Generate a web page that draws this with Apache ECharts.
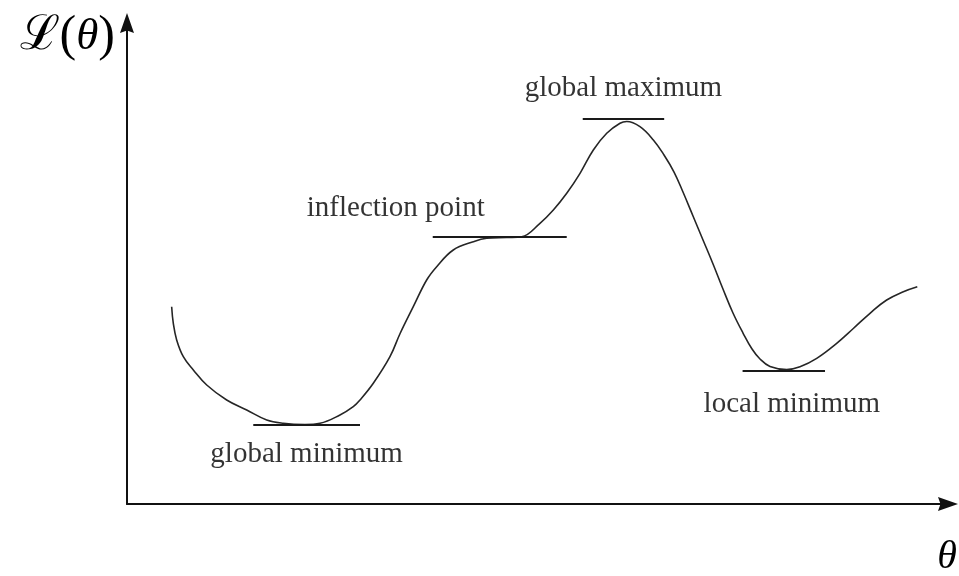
<!DOCTYPE html>
<html>
<head>
<meta charset="utf-8">
<script src="https://cdn.jsdelivr.net/npm/echarts@6/dist/echarts.min.js"></script>
<style>
  html, body { margin: 0; padding: 0; background: #ffffff; }
  #chart { width: 959px; height: 576px; }
</style>
</head>
<body>
<div id="chart"></div>
<script>
// Loss landscape L(θ) sampled along θ (both axes run 0..100, unitless)
const curveTheta = [
  5.44, 5.64, 6.05, 6.86, 8.08, 9.71, 12.14, 14.58, 17.02, 19.04,
  21.68, 23.51, 25.94, 27.56, 28.38, 30.0, 32.03, 33.25, 34.87, 36.5,
  37.72, 39.74, 42.18, 43.81, 46.25, 48.07, 50.3, 51.93, 53.56, 55.18,
  56.8, 58.43, 60.05, 60.87, 62.48, 64.11, 65.41, 66.63, 67.72, 68.94,
  70.16, 71.38, 72.59, 73.81, 75.03, 76.13, 77.1, 78.32, 80.35, 81.97,
  84.01, 86.44, 88.47, 90.5, 92.53, 94.56, 96.26
];
const curveLoss = [
  41.02, 37.57, 34.1, 30.62, 27.86, 24.74, 21.62, 19.54, 17.46, 16.78,
  16.53, 16.78, 18.5, 20.23, 21.62, 25.09, 30.62, 35.4, 41.02, 46.57,
  49.33, 52.81, 54.53, 55.24, 55.41, 55.57, 58.36, 61.12, 64.59, 68.75,
  73.6, 77.07, 79.15, 79.52, 78.44, 75.68, 72.56, 69.02, 64.86, 59.88,
  54.89, 49.9, 44.7, 39.71, 35.55, 32.22, 30.15, 28.59, 27.96, 28.54,
  30.29, 33.41, 36.49, 39.65, 42.41, 44.14, 45.18
];

// Stationary points: name, θ at the tangent's centre, level of the tangent, half span of the tangent
const stationaryNames = ['global minimum', 'inflection point', 'global maximum', 'local minimum'];
const stationaryTheta = [21.88, 45.4, 60.47, 80.0];
const stationaryLoss = [16.42, 55.47, 80.04, 27.71];
const tangentHalfSpan = [6.5, 8.16, 4.96, 5.02];

// Axis titles
const lossAxisTitle = '{l|ℒ}{p|(}{t|θ}{p|)}';
const thetaAxisTitle = 'θ';

// Label placement around each tangent (pixels): [dx, dy]
const labelOffsets = [[0, 29], [-104, -29], [0, -31], [8, 34]];

const serif = "'Liberation Serif', 'Times New Roman', serif";
const arrowHead = 'path://M7,0 L14,20 L7,17.5 L0,20 Z';

const curveData = curveTheta.map((t, i) => [t, curveLoss[i]]);

const tangentSegments = stationaryTheta.map((t, i) => [
  { coord: [t - tangentHalfSpan[i], stationaryLoss[i]] },
  { coord: [t + tangentHalfSpan[i], stationaryLoss[i]] }
]);

const stationaryData = stationaryNames.map((name, i) => ({
  name: name,
  value: [stationaryTheta[i], stationaryLoss[i]],
  label: { offset: labelOffsets[i] }
}));

const axisLineStyle = { color: '#111111', width: 2 };

const chart = echarts.init(document.getElementById('chart'), null, { renderer: 'canvas' });

chart.setOption({
  animation: false,
  backgroundColor: '#ffffff',
  grid: { left: 127, right: 11, top: 23, bottom: 72, containLabel: false, outerBoundsMode: 'none' },
  xAxis: {
    type: 'value',
    min: 0,
    max: 100,
    axisLine: {
      show: true,
      onZero: false,
      symbol: ['none', arrowHead],
      symbolSize: [14, 20],
      lineStyle: axisLineStyle
    },
    axisTick: { show: false },
    axisLabel: { show: false },
    splitLine: { show: false },
    name: thetaAxisTitle,
    nameLocation: 'end',
    nameGap: -1,
    nameTextStyle: {
      fontFamily: serif,
      fontStyle: 'italic',
      fontSize: 40,
      color: '#000000',
      align: 'center',
      verticalAlign: 'top',
      padding: [33, 0, 0, 0]
    }
  },
  yAxis: {
    type: 'value',
    min: 0,
    max: 100,
    axisLine: {
      show: true,
      onZero: false,
      symbol: ['none', arrowHead],
      symbolSize: [14, 20],
      lineStyle: axisLineStyle
    },
    axisTick: { show: false },
    axisLabel: { show: false },
    splitLine: { show: false },
    name: lossAxisTitle,
    nameLocation: 'end',
    nameGap: -14,
    nameTextStyle: {
      align: 'right',
      verticalAlign: 'middle',
      padding: [0, 12, 0, 0],
      color: '#000000',
      rich: {
        l: { fontFamily: "'DejaVu Serif', serif", fontSize: 48, color: '#000000' },
        p: { fontFamily: serif, fontSize: 50, color: '#000000' },
        t: { fontFamily: serif, fontStyle: 'italic', fontSize: 45, color: '#000000' }
      }
    }
  },
  series: [
    {
      type: 'line',
      data: curveData,
      showSymbol: false,
      smooth: 0.4,
      silent: true,
      lineStyle: { color: '#262626', width: 1.6 },
      z: 3
    },
    {
      type: 'scatter',
      data: stationaryData,
      symbolSize: 1,
      silent: true,
      itemStyle: { color: 'rgba(0,0,0,0)' },
      label: {
        show: true,
        position: 'inside',
        formatter: (p) => p.name,
        fontFamily: serif,
        fontSize: 29,
        color: '#000000'
      },
      markLine: {
        silent: true,
        symbol: ['none', 'none'],
        label: { show: false },
        lineStyle: { color: '#1a1a1a', width: 2, type: 'solid' },
        emphasis: { disabled: true },
        data: tangentSegments
      },
      z: 4
    }
  ]
});
</script>
</body>
</html>
